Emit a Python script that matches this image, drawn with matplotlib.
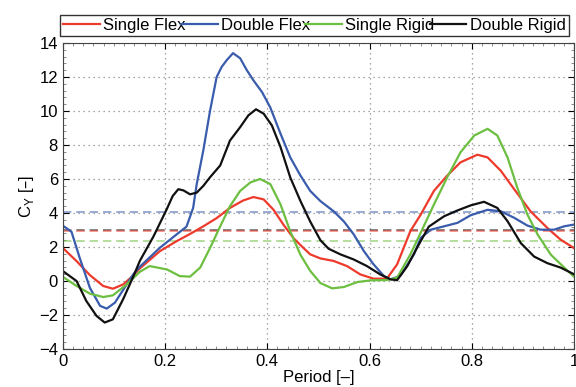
import numpy as np
import matplotlib.pyplot as plt
from matplotlib.ticker import AutoMinorLocator

plt.rcParams['font.family'] = ['Liberation Sans', 'DejaVu Sans']

# Single Flex (red)
t_sf = [0.0, 0.027, 0.053, 0.079, 0.098, 0.118, 0.137, 0.151, 0.19, 0.223, 0.249, 0.275,
        0.301, 0.327, 0.353, 0.373, 0.393, 0.412, 0.432, 0.452, 0.471, 0.484, 0.504, 0.53,
        0.556, 0.582, 0.608, 0.634, 0.654, 0.68, 0.7, 0.726, 0.752, 0.778, 0.811, 0.831,
        0.857, 0.883, 0.915, 0.948, 0.974, 1.0]
cy_sf = [1.95, 1.17, 0.35, -0.29, -0.45, -0.2, 0.3, 0.75, 1.76, 2.35, 2.77, 3.22,
         3.7, 4.3, 4.74, 4.94, 4.8, 4.2, 3.3, 2.5, 1.94, 1.57, 1.33, 1.18,
         0.88, 0.39, 0.14, 0.14, 0.98, 2.94, 3.9, 5.3, 6.2, 6.98, 7.43, 7.27,
         6.48, 5.4, 4.1, 3.12, 2.43, 1.94]

# Double Flex (blue)
t_df = [0.0, 0.017, 0.033, 0.053, 0.073, 0.086, 0.102, 0.125, 0.138, 0.151, 0.19, 0.223,
        0.242, 0.255, 0.262, 0.275, 0.288, 0.301, 0.311, 0.321, 0.333, 0.347, 0.36, 0.373,
        0.39, 0.406, 0.426, 0.445, 0.465, 0.484, 0.504, 0.53, 0.55, 0.569, 0.589, 0.608,
        0.628, 0.641, 0.66, 0.687, 0.7, 0.72, 0.746, 0.772, 0.798, 0.831, 0.857, 0.883,
        0.909, 0.935, 0.961, 0.981, 1.0]
cy_df = [3.26, 2.9, 1.37, -0.4, -1.46, -1.62, -1.27, -0.2, 0.4, 0.85, 1.96, 2.75,
         3.2, 4.3, 5.7, 7.7, 10.0, 12.0, 12.6, 13.0, 13.4, 13.1, 12.4, 11.8,
         11.1, 10.2, 8.66, 7.27, 6.2, 5.3, 4.7, 4.1, 3.5, 2.75, 1.76, 0.98,
         0.3, 0.1, 0.3, 1.57, 2.53, 3.02, 3.22, 3.42, 3.87, 4.19, 4.1, 3.72,
         3.26, 3.02, 3.02, 3.22, 3.32]

# Single Rigid (green)
t_sr = [0.0, 0.027, 0.053, 0.079, 0.098, 0.125, 0.151, 0.17, 0.204, 0.229, 0.249, 0.269,
        0.288, 0.308, 0.327, 0.347, 0.367, 0.386, 0.406, 0.426, 0.445, 0.465, 0.484, 0.504,
        0.527, 0.55, 0.576, 0.602, 0.634, 0.654, 0.68, 0.7, 0.726, 0.752, 0.778, 0.805,
        0.831, 0.85, 0.87, 0.889, 0.909, 0.929, 0.955, 0.981, 1.0]
cy_sr = [0.25, -0.29, -0.74, -0.94, -0.84, -0.2, 0.55, 0.88, 0.68, 0.29, 0.26, 0.8,
         1.94, 3.22, 4.4, 5.3, 5.8, 6.0, 5.7, 4.5, 2.92, 1.54, 0.6, -0.12,
         -0.43, -0.35, -0.06, 0.04, 0.06, 0.2, 1.57, 2.83, 4.5, 6.1, 7.57, 8.56,
         8.95, 8.56, 7.27, 5.5, 3.9, 2.73, 1.54, 0.79, 0.26]

# Double Rigid (black)
t_dr = [0.0, 0.027, 0.046, 0.066, 0.082, 0.098, 0.118, 0.137, 0.151, 0.177, 0.203, 0.215,
        0.226, 0.236, 0.249, 0.262, 0.275, 0.288, 0.308, 0.327, 0.347, 0.363, 0.378, 0.393,
        0.409, 0.426, 0.445, 0.465, 0.484, 0.504, 0.52, 0.543, 0.569, 0.595, 0.621, 0.641,
        0.654, 0.674, 0.693, 0.716, 0.746, 0.772, 0.798, 0.824, 0.85, 0.87, 0.896, 0.922,
        0.948, 0.974, 1.0]
cy_dr = [0.59, 0.0, -1.17, -2.05, -2.44, -2.25, -1.07, 0.2, 1.2, 2.6, 4.2, 5.0,
         5.4, 5.33, 5.1, 5.2, 5.6, 6.1, 6.8, 8.26, 9.05, 9.74, 10.1, 9.84,
         9.15, 7.87, 6.09, 4.7, 3.5, 2.4, 1.9, 1.57, 1.27, 0.88, 0.39, 0.1,
         0.05, 0.88, 1.96, 3.2, 3.81, 4.15, 4.45, 4.66, 4.3, 3.52, 2.23, 1.44,
         1.05, 0.79, 0.4]

# period means (dashed)
mean_sf = 2.93
mean_df = 4.04
mean_sr = 2.34
mean_dr = 3.03

c_red = '#ee3a2c'
c_blue = '#3a5cad'
c_green = '#6cbf40'
c_black = '#111111'

fig = plt.figure(figsize=(5.76, 3.87), dpi=100)
ax = fig.add_axes([0.109, 0.098, 0.8875, 0.791])

ax.axhline(mean_df, color=c_blue, ls='--', lw=1.2, alpha=0.6, dashes=(5, 3))
ax.axhline(mean_dr, color=c_black, ls='--', lw=1.2, alpha=0.6, dashes=(5, 3))
ax.axhline(mean_sf, color=c_red, ls='--', lw=1.2, alpha=0.6, dashes=(5, 3))
ax.axhline(mean_sr, color=c_green, ls='--', lw=1.2, alpha=0.6, dashes=(5, 3))

ax.plot(t_sf, cy_sf, color=c_red, lw=1.6, label='Single Flex')
ax.plot(t_df, cy_df, color=c_blue, lw=1.6, label='Double Flex')
ax.plot(t_sr, cy_sr, color=c_green, lw=1.6, label='Single Rigid')
ax.plot(t_dr, cy_dr, color=c_black, lw=1.6, label='Double Rigid')

ax.set_xlim(0, 1)
ax.set_ylim(-4, 14)
ax.set_xticks([0, 0.2, 0.4, 0.6, 0.8, 1])
ax.set_xticklabels(['0', '0.2', '0.4', '0.6', '0.8', '1'])
ax.set_yticks(np.arange(-4, 15, 2))
ax.xaxis.set_minor_locator(AutoMinorLocator(10))
ax.yaxis.set_minor_locator(AutoMinorLocator(5))
ax.tick_params(which='both', direction='in', top=True, right=True, labelsize=12)
ax.tick_params(which='major', length=4)
ax.tick_params(which='minor', length=2, color='#777777')
ax.grid(True, which='major', ls=(0, (1, 3)), color='#8a8a8a', lw=0.9)
for s in ax.spines.values():
    s.set_color('#444444')

ax.set_xlabel('Period [\u2013]', fontsize=12, labelpad=1)
ax.set_ylabel('C$_\\mathregular{Y}$ [\u2013]', fontsize=12, labelpad=2)

leg = ax.legend(loc='lower left', bbox_to_anchor=(-0.015, 1.005, 1.015, 0.08), ncol=4,
                mode='expand', fontsize=12, frameon=True, fancybox=False,
                handlelength=2.2, handletextpad=0.2, columnspacing=0.3,
                borderpad=0.2, borderaxespad=0.3)
leg.get_frame().set_edgecolor('black')
leg.get_frame().set_linewidth(1.0)

fig.savefig('out.png', dpi=100)
